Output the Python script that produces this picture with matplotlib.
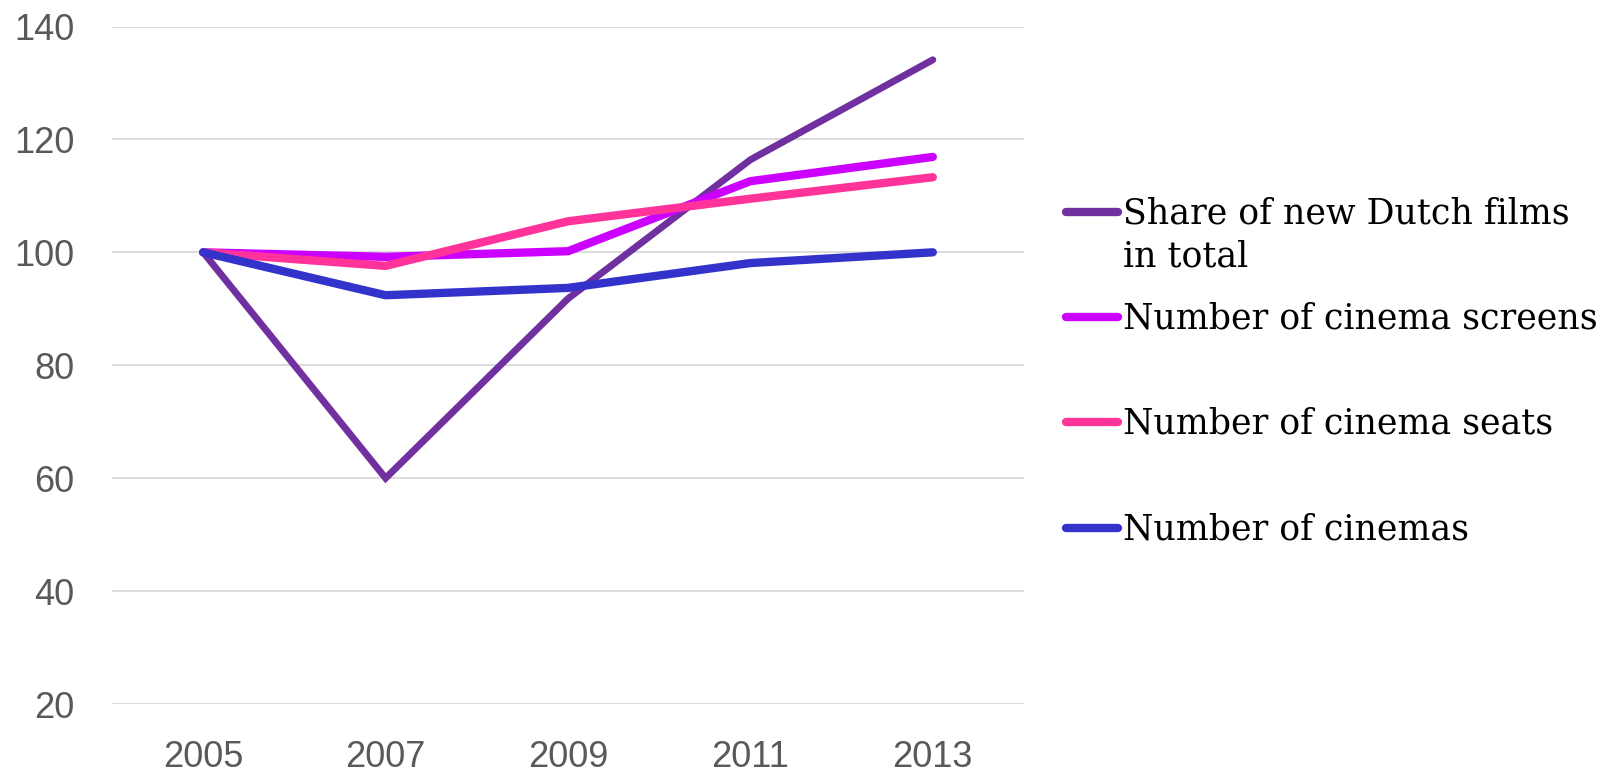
import matplotlib.pyplot as plt
from matplotlib.lines import Line2D

# data (index, 2005 = 100)
years = ["2005", "2007", "2009", "2011", "2013"]
share_dutch = [100, 60, 91.8, 116.4, 134.1]
screens = [100, 99.2, 100.2, 112.6, 116.9]
seats = [100, 97.6, 105.5, 109.5, 113.3]
cinemas = [100, 92.4, 93.7, 98.1, 100]

labels = ["Share of new Dutch films\nin total", "Number of cinema screens",
          "Number of cinema seats", "Number of cinemas"]
colors = ["#7030A0", "#CC00FF", "#FF3399", "#3333CC"]
widths = [5, 6, 6, 6]
series = [share_dutch, screens, seats, cinemas]

W, H = 1597, 772
fig = plt.figure(figsize=(W / 100, H / 100), dpi=100)
ax = fig.add_axes([112 / W, 1 - 704 / H, (1024 - 112) / W, (704 - 26.5) / H])

x = range(len(years))
for vals, c, lw in zip(series, colors, widths):
    ax.plot(x, vals, color=c, lw=lw, solid_capstyle="round", solid_joinstyle="miter")

ax.set_xlim(-0.5, len(years) - 0.5)
ax.set_ylim(20, 140)
ax.set_yticks(range(20, 141, 20))
ax.set_xticks(list(x))
ax.set_xticklabels(years)
ax.grid(axis="y", color="#D9D9D9", lw=1.3)
ax.set_axisbelow(True)
for s in ax.spines.values():
    s.set_visible(False)
ax.tick_params(length=0, labelsize=26, labelcolor="#595959")
ax.tick_params(axis="x", pad=26)
ax.tick_params(axis="y", pad=27)
for t in ax.get_xticklabels() + ax.get_yticklabels():
    t.set_fontfamily("Liberation Sans")

# legend drawn by hand so the marker sits on the first text line
leg_y = [212, 317, 422, 528]
for lab, c, y in zip(labels, colors, leg_y):
    fy = 1 - y / H
    fig.add_artist(Line2D([1066 / W, 1118 / W], [fy, fy], color=c, lw=6,
                          solid_capstyle="round"))
    fig.text(1123 / W, 1 - (y - 16) / H, lab, fontsize=25, family="DejaVu Serif",
             va="top", ha="left", color="black", linespacing=1.36)

fig.savefig("out.png", dpi=100)
